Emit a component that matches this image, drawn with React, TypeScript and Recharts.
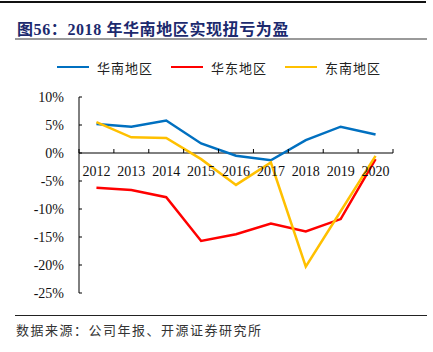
import {
  LineChart,
  Line,
  XAxis,
  YAxis,
  ReferenceLine,
  ReferenceDot,
} from "recharts";

const years = ["2012", "2013", "2014", "2015", "2016", "2017", "2018", "2019", "2020"];
const southChina = [5.2, 4.7, 5.8, 1.7, -0.5, -1.3, 2.3, 4.7, 3.3];
const eastChina = [-6.2, -6.6, -7.9, -15.7, -14.5, -12.6, -14.0, -11.8, -1.1];
const southeastChina = [5.5, 2.8, 2.7, -1.1, -5.7, -1.7, -20.3, -10.4, -0.5];
const yTicks = [-25, -20, -15, -10, -5, 0, 5, 10];

const series = [
  { key: "south", name: "华南地区", color: "#0070C0" },
  { key: "east", name: "华东地区", color: "#FF0000" },
  { key: "southeast", name: "东南地区", color: "#FFC000" },
];

// x is the band centre on a 0..9 numeric axis, so boundaries fall on integers
const data = years.map((year, i) => ({
  x: i + 0.5,
  year,
  south: southChina[i],
  east: eastChina[i],
  southeast: southeastChina[i],
}));
const boundaries = years.map((_, i) => i).concat(years.length);

const serif = "'Liberation Serif', 'Times New Roman', serif";
const cjk = "'Noto Sans CJK SC', sans-serif";

export default function App() {
  return (
    <div
      style={{
        position: "absolute",
        left: 0,
        top: 0,
        width: 433,
        height: 352,
        background: "#fff",
        overflow: "hidden",
      }}
    >
      <div style={{ position: "absolute", left: 0, top: 1, width: 426, height: 2, background: "#111" }} />
      <div
        style={{
          position: "absolute",
          left: 17,
          top: 16,
          fontFamily: `'Liberation Serif', ${cjk}`,
          fontWeight: "bold",
          fontSize: 16,
          color: "#1C2A6E",
          letterSpacing: 0.6,
          whiteSpace: "nowrap",
        }}
      >
        图56：2018 年华南地区实现扭亏为盈
      </div>
      <div style={{ position: "absolute", left: 15, top: 38, width: 412, height: 2, background: "#9a9a9a" }} />

      <div
        style={{
          position: "absolute",
          left: 57,
          top: 58,
          height: 18,
          display: "flex",
          alignItems: "center",
          fontFamily: cjk,
          fontSize: 13,
          letterSpacing: 1,
          color: "#222",
          whiteSpace: "nowrap",
        }}
      >
        {series.map((s) => (
          <div key={s.key} style={{ display: "flex", alignItems: "center", marginRight: 18 }}>
            <div style={{ width: 32, height: 2.5, background: s.color, marginRight: 8 }} />
            <span>{s.name}</span>
          </div>
        ))}
      </div>

      <div style={{ position: "absolute", left: 0, top: 0 }}>
        <LineChart
          width={433}
          height={352}
          data={data}
          margin={{ top: 97, right: 40, bottom: 59, left: 19 }}
        >
          <XAxis dataKey="x" type="number" domain={[0, years.length]} hide />
          <YAxis
            width={60}
            domain={[-25, 10]}
            ticks={yTicks}
            interval={0}
            tickFormatter={(v) => `${v}%`}
            axisLine={{ stroke: "#000" }}
            tickLine={{ stroke: "#000" }}
            tickSize={-3}
            tickMargin={18}
            tick={{ fill: "#111", fontSize: 14, fontFamily: serif }}
          />
          <ReferenceLine y={0} stroke="#000" strokeWidth={1} />
          {boundaries.map((b) => (
            <ReferenceDot
              key={`t${b}`}
              x={b}
              y={0}
              r={0}
              shape={(p: any) => (
                <line x1={p.cx} y1={p.cy} x2={p.cx} y2={p.cy - 4} stroke="#000" strokeWidth={1} />
              )}
            />
          ))}
          {data.map((d) => (
            <ReferenceDot
              key={`l${d.year}`}
              x={d.x}
              y={0}
              r={0}
              shape={(p: any) => (
                <text
                  x={p.cx}
                  y={p.cy + 23}
                  textAnchor="middle"
                  fontFamily={serif}
                  fontSize={14}
                  fill="#111"
                >
                  {d.year}
                </text>
              )}
            />
          ))}
          {series.map((s) => (
            <Line
              key={s.key}
              type="linear"
              dataKey={s.key}
              name={s.name}
              stroke={s.color}
              strokeWidth={2.5}
              dot={false}
              isAnimationActive={false}
            />
          ))}
        </LineChart>
      </div>

      <div style={{ position: "absolute", left: 15, top: 315, width: 412, height: 1, background: "#222" }} />
      <div
        style={{
          position: "absolute",
          left: 16,
          top: 320,
          fontFamily: cjk,
          fontSize: 13,
          letterSpacing: 1.5,
          color: "#333",
          whiteSpace: "nowrap",
        }}
      >
        数据来源：公司年报、开源证券研究所
      </div>
    </div>
  );
}
